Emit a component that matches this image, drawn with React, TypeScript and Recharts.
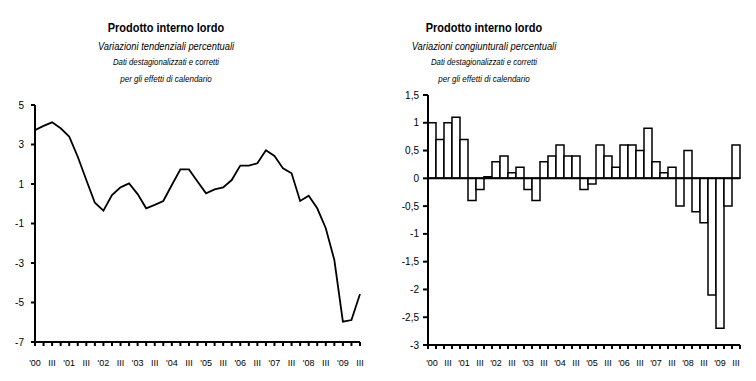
import React from "react";
import {
  LineChart,
  Line,
  BarChart,
  Bar,
  XAxis,
  YAxis,
  ReferenceLine,
} from "recharts";

// Quarters 2000 Q1 .. 2009 Q3
const quarters = [
  "2000-I", "2000-II", "2000-III", "2000-IV",
  "2001-I", "2001-II", "2001-III", "2001-IV",
  "2002-I", "2002-II", "2002-III", "2002-IV",
  "2003-I", "2003-II", "2003-III", "2003-IV",
  "2004-I", "2004-II", "2004-III", "2004-IV",
  "2005-I", "2005-II", "2005-III", "2005-IV",
  "2006-I", "2006-II", "2006-III", "2006-IV",
  "2007-I", "2007-II", "2007-III", "2007-IV",
  "2008-I", "2008-II", "2008-III", "2008-IV",
  "2009-I", "2009-II", "2009-III",
];

const tickLabels = [
  "'00", "", "III", "",
  "'01", "", "III", "",
  "'02", "", "III", "",
  "'03", "", "III", "",
  "'04", "", "III", "",
  "'05", "", "III", "",
  "'06", "", "III", "",
  "'07", "", "III", "",
  "'08", "", "III", "",
  "'09", "", "III",
];

// Variazioni tendenziali percentuali
const tendenziali = [
  3.73, 3.94, 4.12, 3.82,
  3.4, 2.38, 1.2, 0.05,
  -0.35, 0.44, 0.83, 1.03,
  0.49, -0.23, -0.06, 0.14,
  0.95, 1.74, 1.74, 1.13,
  0.53, 0.73, 0.83, 1.2,
  1.93, 1.93, 2.05, 2.71,
  2.42, 1.79, 1.54, 0.14,
  0.41, -0.23, -1.24, -2.85,
  -5.97, -5.89, -4.57,
];

// Variazioni congiunturali percentuali
const congiunturali = [
  1.0, 0.7, 1.0, 1.1,
  0.7, -0.4, -0.2, 0.03,
  0.3, 0.4, 0.1, 0.2,
  -0.2, -0.4, 0.3, 0.4,
  0.6, 0.4, 0.4, -0.2,
  -0.1, 0.6, 0.4, 0.2,
  0.6, 0.6, 0.5, 0.9,
  0.3, 0.1, 0.2, -0.5,
  0.5, -0.6, -0.8, -2.1,
  -2.7, -0.5, 0.6,
];

const leftYTicks = [-7, -5, -3, -1, 1, 3, 5];
const rightYTicks = [-3, -2.5, -2, -1.5, -1, -0.5, 0, 0.5, 1, 1.5];

const title = "Prodotto interno lordo";
const leftSubtitle = "Variazioni tendenziali percentuali";
const rightSubtitle = "Variazioni congiunturali percentuali";
const note1 = "Dati destagionalizzati e corretti";
const note2 = "per gli effetti di calendario";

const leftData = quarters.map((q, i) => ({ q, v: tendenziali[i] }));
const rightData = quarters.map((q, i) => ({ q, v: congiunturali[i] }));

const FONT = "'Liberation Sans', Arial, sans-serif";
const NARROW = 0.82;

const fmtComma = (v: number) => String(v).replace(".", ",");

function YTick(props: any) {
  const { x, y, payload, tickFormatter } = props;
  const label = tickFormatter ? tickFormatter(payload.value) : String(payload.value);
  return (
    <text x={x} y={y} dy="0.355em" textAnchor="end" fill="#000" fontSize={10} fontFamily={FONT}>
      {label}
    </text>
  );
}

function PointTick(props: any) {
  const { x, y, index } = props;
  const label = tickLabels[index] || "";
  if (!label) return <g />;
  return (
    <text x={x} y={y} dy="0.71em" textAnchor="middle" fill="#000" fontSize={9} fontFamily={FONT}>
      {label}
    </text>
  );
}

function BandTick(props: any) {
  const { x, y, index, width, visibleTicksCount } = props;
  const n = visibleTicksCount || quarters.length;
  const bw = (width || 312) / n;
  const label = tickLabels[index] || "";
  return (
    <g>
      <line x1={x - bw / 2} x2={x - bw / 2} y1={y} y2={y + 4} stroke="#000" strokeWidth={2} />
      {index === n - 1 && (
        <line x1={x + bw / 2} x2={x + bw / 2} y1={y} y2={y + 4} stroke="#000" strokeWidth={2} />
      )}
      {label && (
        <text x={x} y={y + 15} dy="0.71em" textAnchor="middle" fill="#000" fontSize={9} fontFamily={FONT}>
          {label}
        </text>
      )}
    </g>
  );
}

function Titles({ cx, sub }: { cx: number; sub: string }) {
  const base: React.CSSProperties = {
    position: "absolute",
    left: cx - 150,
    width: 300,
    textAlign: "center",
    fontFamily: FONT,
    color: "#000",
    whiteSpace: "nowrap",
    height: 16,
    lineHeight: "16px",
    transform: `scaleX(${NARROW})`,
    transformOrigin: "50% 50%",
  };
  return (
    <>
      <div style={{ ...base, top: 20, fontSize: 13.4, fontWeight: "bold" }}>{title}</div>
      <div style={{ ...base, top: 38, fontSize: 11.4, fontStyle: "italic" }}>{sub}</div>
      <div style={{ ...base, top: 54, fontSize: 9.5, fontStyle: "italic" }}>{note1}</div>
      <div style={{ ...base, top: 71, fontSize: 9.8, fontStyle: "italic" }}>{note2}</div>
    </>
  );
}

export default function App() {
  return (
    <div
      style={{
        position: "fixed",
        left: 0,
        top: 0,
        width: 756,
        height: 381,
        background: "#fff",
        overflow: "hidden",
      }}
    >
      <Titles cx={166} sub={leftSubtitle} />
      <Titles cx={484} sub={rightSubtitle} />

      <div style={{ position: "absolute", left: 0, top: 0 }}>
        <LineChart
          width={380}
          height={381}
          data={leftData}
          margin={{ top: 105, right: 20, left: 0, bottom: 0 }}
        >
          <XAxis
            dataKey="q"
            interval={0}
            height={39}
            axisLine={{ stroke: "#000", strokeWidth: 2 }}
            tickLine={{ stroke: "#000", strokeWidth: 2 }}
            tickSize={4}
            tickMargin={14}
            tick={<PointTick />}
          />
          <YAxis
            domain={[-7, 5]}
            ticks={leftYTicks}
            interval={0}
            width={35}
            axisLine={{ stroke: "#000", strokeWidth: 2 }}
            tickLine={{ stroke: "#000", strokeWidth: 2 }}
            tickSize={4}
            tickMargin={7}
            tick={<YTick />}
          />
          <Line
            dataKey="v"
            type="linear"
            stroke="#000"
            strokeWidth={1.8}
            dot={false}
            isAnimationActive={false}
          />
        </LineChart>
      </div>

      <div style={{ position: "absolute", left: 380, top: 0 }}>
        <BarChart
          width={376}
          height={381}
          data={rightData}
          barCategoryGap={0}
          margin={{ top: 95, right: 16, left: 0, bottom: 0 }}
        >
          <XAxis
            dataKey="q"
            interval={0}
            height={36}
            axisLine={{ stroke: "#000", strokeWidth: 2 }}
            tickLine={false}
            tickSize={0}
            tickMargin={0}
            tick={<BandTick />}
          />
          <YAxis
            domain={[-3, 1.5]}
            ticks={rightYTicks}
            interval={0}
            width={48}
            tickFormatter={fmtComma}
            axisLine={{ stroke: "#000", strokeWidth: 2 }}
            tickLine={{ stroke: "#000", strokeWidth: 2 }}
            tickSize={5}
            tickMargin={4}
            tick={<YTick />}
          />
          <Bar
            dataKey="v"
            fill="#fff"
            stroke="#000"
            strokeWidth={1.5}
            isAnimationActive={false}
          />
          <ReferenceLine y={0} stroke="#000" strokeWidth={2} />
        </BarChart>
      </div>
    </div>
  );
}
